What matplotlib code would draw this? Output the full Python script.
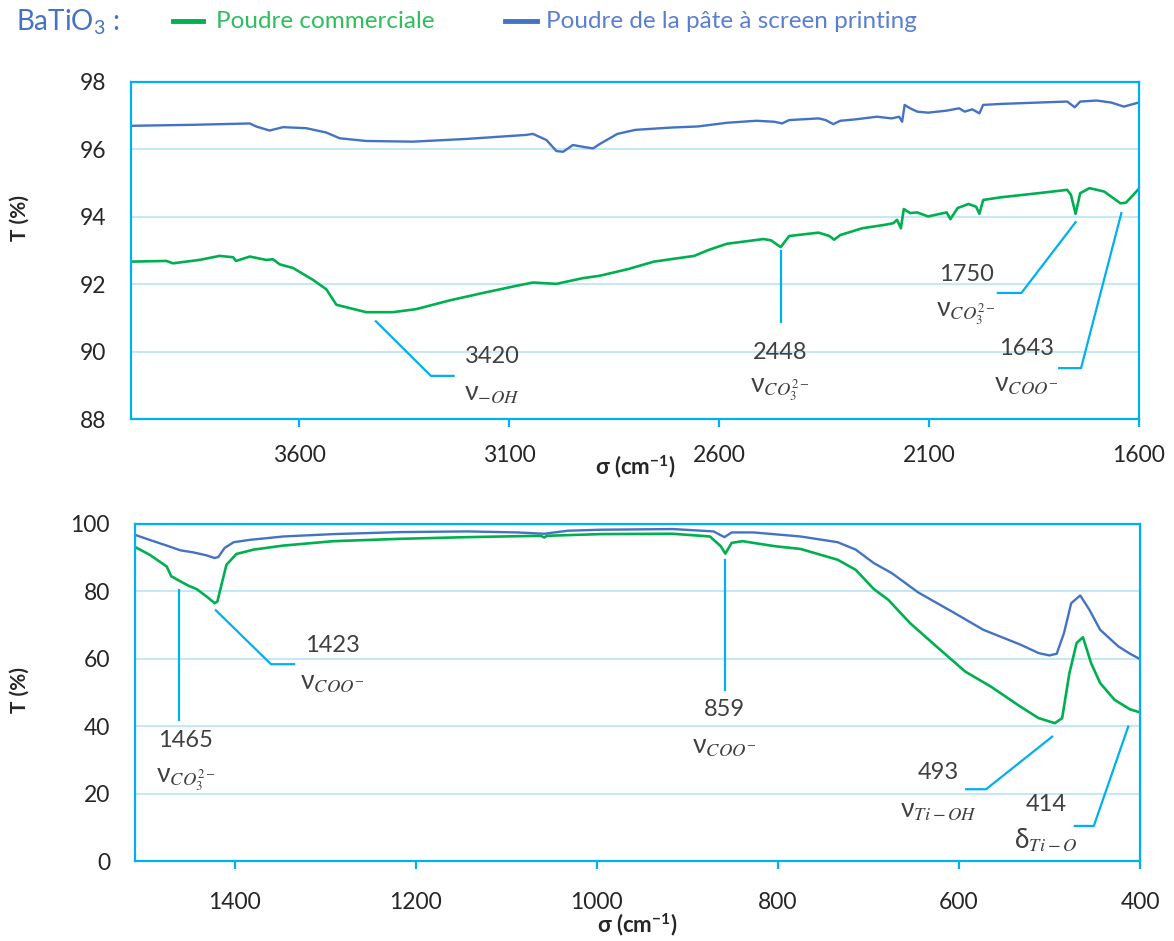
import matplotlib
matplotlib.use("Agg")
import matplotlib.pyplot as plt
from matplotlib.lines import Line2D

plt.rcParams['font.family'] = ['Lato', 'DejaVu Sans']
plt.rcParams['mathtext.fontset'] = 'custom'
plt.rcParams['mathtext.rm'] = 'Lato'
plt.rcParams['mathtext.it'] = 'Lato:italic'
plt.rcParams['mathtext.bf'] = 'Lato:bold'

# ---------------- data: top panel (4000-1600 cm-1) ----------------
top_blue_x = [4000, 3852, 3717, 3702, 3670, 3638, 3583, 3535, 3503, 3440, 3329, 3202, 3059, 3043,
              3011, 2987, 2971, 2948, 2916, 2900, 2884, 2842, 2799, 2711, 2651, 2581, 2511, 2468,
              2450, 2433, 2363, 2346, 2328, 2311, 2276, 2224, 2189, 2171, 2164, 2158, 2145, 2128,
              2102, 2058, 2028, 2015, 1997, 1980, 1971, 1928, 1840, 1771, 1753, 1740, 1701, 1666,
              1636, 1601]
top_blue_y = [96.70, 96.73, 96.77, 96.68, 96.56, 96.66, 96.63, 96.50, 96.33, 96.25, 96.23, 96.31,
              96.43, 96.46, 96.28, 95.95, 95.93, 96.13, 96.06, 96.03, 96.16, 96.46, 96.58, 96.65,
              96.68, 96.79, 96.85, 96.82, 96.77, 96.87, 96.92, 96.87, 96.75, 96.85, 96.89, 96.97,
              96.92, 96.97, 96.82, 97.32, 97.22, 97.12, 97.09, 97.15, 97.22, 97.12, 97.19, 97.07,
              97.32, 97.35, 97.39, 97.42, 97.25, 97.42, 97.45, 97.39, 97.27, 97.39]

top_green_x = [4000, 3916, 3900, 3837, 3789, 3757, 3750, 3717, 3678, 3662, 3646, 3614, 3567, 3535,
               3511, 3479, 3440, 3376, 3321, 3241, 3162, 3083, 3043, 2987, 2924, 2884, 2816, 2755,
               2659, 2624, 2581, 2494, 2476, 2453, 2433, 2363, 2337, 2326, 2311, 2259, 2206, 2185,
               2176, 2167, 2160, 2145, 2128, 2102, 2084, 2058, 2049, 2032, 2006, 1988, 1980, 1971,
               1928, 1840, 1771, 1762, 1751, 1740, 1718, 1683, 1644, 1631, 1601]
top_green_y = [92.67, 92.69, 92.62, 92.72, 92.84, 92.80, 92.69, 92.82, 92.72, 92.74, 92.59, 92.48,
               92.13, 91.85, 91.39, 91.29, 91.17, 91.17, 91.26, 91.52, 91.74, 91.95, 92.05, 92.01,
               92.18, 92.25, 92.45, 92.67, 92.84, 93.02, 93.20, 93.34, 93.30, 93.10, 93.43, 93.53,
               93.43, 93.32, 93.46, 93.66, 93.76, 93.81, 93.91, 93.66, 94.23, 94.11, 94.13, 94.01,
               94.06, 94.13, 93.93, 94.26, 94.38, 94.30, 94.09, 94.50, 94.58, 94.70, 94.80, 94.65,
               94.09, 94.70, 94.85, 94.75, 94.40, 94.42, 94.82]

# ---------------- data: bottom panel (1510-400 cm-1) ----------------
bot_blue_x = [1508, 1494, 1475, 1460, 1446, 1431, 1422, 1418, 1411, 1401, 1383, 1346, 1291, 1217,
              1143, 1088, 1058, 1032, 996, 916, 871, 859, 851, 827, 775, 734, 714, 694, 674, 645,
              605, 573, 532, 512, 500, 492, 484, 476, 466, 456, 444, 424, 411, 400]
bot_blue_y = [96.6, 95.3, 93.6, 92.2, 91.6, 90.7, 89.9, 90.2, 92.9, 94.6, 95.3, 96.3, 97.0, 97.6,
              97.8, 97.5, 97.1, 98.0, 98.3, 98.5, 97.8, 96.1, 97.5, 97.5, 96.3, 94.6, 92.4, 88.4,
              85.4, 79.7, 73.6, 68.6, 64.2, 61.7, 61.0, 61.5, 67.6, 76.5, 78.8, 74.6, 68.6, 63.7,
              61.5, 59.9]

bot_green_x = [1508, 1494, 1475, 1470, 1460, 1451, 1442, 1431, 1422, 1419, 1414, 1409, 1398, 1379,
               1346, 1291, 1217, 1143, 1062, 1058, 1055, 996, 916, 875, 863, 858, 851, 839, 803,
               775, 734, 714, 694, 678, 654, 625, 593, 565, 532, 512, 494, 486, 478, 470, 463, 454,
               444, 428, 411, 400]
bot_green_y = [92.9, 90.9, 87.4, 84.5, 83.0, 81.7, 80.7, 78.5, 76.5, 77.0, 82.5, 87.9, 91.1, 92.4,
               93.6, 94.9, 95.6, 96.1, 96.5, 96.0, 96.5, 97.0, 97.1, 96.3, 93.4, 91.2, 94.4, 94.9,
               93.4, 92.6, 89.4, 86.4, 80.7, 77.5, 70.6, 63.7, 56.2, 51.8, 45.8, 42.4, 40.9, 42.4,
               55.7, 64.7, 66.4, 58.7, 52.8, 47.8, 45.0, 44.1]

top_xticks = [3600, 3100, 2600, 2100, 1600]
top_yticks = [88, 90, 92, 94, 96, 98]
bot_xticks = [1400, 1200, 1000, 800, 600, 400]
bot_yticks = [0, 20, 40, 60, 80, 100]

legend_title = "BaTiO$_3$ :"
series_names = ["Poudre commerciale", "Poudre de la pâte à screen printing"]

# peak annotations: (wavenumber label, assignment)
top_peaks = ["3420", "2448", "1750", "1643"]
top_assign = ["ν$_{-OH}$", "ν$_{CO_3^{2-}}$", "ν$_{CO_3^{2-}}$", "ν$_{COO^{-}}$"]
bot_peaks = ["1465", "1423", "859", "493", "414"]
bot_assign = ["ν$_{CO_3^{2-}}$", "ν$_{COO^{-}}$", "ν$_{COO^{-}}$", "ν$_{Ti-OH}$", "δ$_{Ti-O}$"]

# ---------------- styling ----------------
GREEN = '#00B050'
BLUE = '#4472C4'
CYAN = '#00B0F0'
GRID = '#BFE6F8'
TXT = '#404040'
TICK = '#262626'

W, H = 1174, 941
fig = plt.figure(figsize=(W / 100, H / 100), dpi=100)

def px_axes(l, t, r, b):
    return fig.add_axes([l / W, 1 - b / H, (r - l) / W, (b - t) / H])

ax1 = px_axes(131, 82, 1139, 419)
ax2 = px_axes(135, 524, 1140, 861)

def style(ax, xlim, ylim, xt, yt, xpad):
    ax.set_xlim(*xlim)
    ax.set_ylim(*ylim)
    ax.set_xticks(xt)
    ax.set_yticks(yt)
    for s in ax.spines.values():
        s.set_color(CYAN)
        s.set_linewidth(1.6)
    ax.yaxis.grid(True, color=GRID, linewidth=1.3)
    ax.set_axisbelow(True)
    ax.tick_params(axis='x', direction='out', length=6, width=1.6, color=CYAN,
                   labelsize=16.5, labelcolor=TICK, pad=xpad)
    ax.tick_params(axis='y', length=0, labelsize=16.5, labelcolor=TICK, pad=18)

style(ax1, (4000, 1600), (88, 98), top_xticks, top_yticks, 13)
style(ax2, (1510, 400), (0, 100), bot_xticks, bot_yticks, 16)

ax1.plot(top_blue_x, top_blue_y, color=BLUE, lw=1.7)
ax1.plot(top_green_x, top_green_y, color=GREEN, lw=1.9)
ax2.plot(bot_blue_x, bot_blue_y, color=BLUE, lw=1.7)
ax2.plot(bot_green_x, bot_green_y, color=GREEN, lw=1.9)

# axis labels
for y in (218, 690):
    fig.text(20 / W, 1 - y / H, "T (%)", rotation=90, ha='center', va='center',
             fontsize=15, fontweight='bold', color=TICK)
for x, y in ((635, 467), (637, 925)):
    fig.text(x / W, 1 - y / H, "σ (cm$^{\\mathbf{-1}}$)", ha='center', va='center',
             fontsize=16, fontweight='bold', color=TICK)

# annotations
def leader(ax, xs, ys):
    ax.plot(xs, ys, color=CYAN, lw=1.6, clip_on=False)

def label(ax, x, y1, y2, num, assign):
    ax.text(x, y1, num, ha='center', va='center', fontsize=17, color=TXT)
    ax.text(x, y2, assign, ha='center', va='center', fontsize=19, color=TXT,
            math_fontfamily='stix')

leader(ax1, [3417, 3286, 3232], [90.90, 89.28, 89.28])
label(ax1, 3140, 89.84, 88.77, top_peaks[0], top_assign[0])
leader(ax1, [2453, 2453], [93.0, 90.87])
label(ax1, 2455, 89.96, 88.87, top_peaks[1], top_assign[1])
leader(ax1, [1751, 1880, 1936], [93.84, 91.74, 91.74])
label(ax1, 2012, 92.30, 91.14, top_peaks[2], top_assign[2])
leader(ax1, [1642, 1738, 1790], [94.11, 89.51, 89.51])
label(ax1, 1867, 90.08, 89.02, top_peaks[3], top_assign[3])

leader(ax2, [1461.6, 1461.6], [80.3, 41.7])
label(ax2, 1454, 35.7, 24.1, bot_peaks[0], bot_assign[0])
leader(ax2, [1420.7, 1359.8, 1334.3], [74.4, 58.4, 58.4])
label(ax2, 1291.5, 64.0, 53.0, bot_peaks[1], bot_assign[1])
leader(ax2, [858.5, 858.5], [89.4, 50.8])
label(ax2, 858.5, 45.0, 34.0, bot_peaks[2], bot_assign[2])
leader(ax2, [497, 570, 592], [36.9, 21.3, 21.3])
label(ax2, 623, 26.2, 15.1, bot_peaks[3], bot_assign[3])
leader(ax2, [413, 451, 472], [39.9, 10.4, 10.4])
label(ax2, 504, 16.9, 6.2, bot_peaks[4], bot_assign[4])

# legend header
fig.text(16 / W, 1 - 22 / H, legend_title, ha='left', va='center', fontsize=20,
         color=BLUE)
fig.add_artist(Line2D([173 / W, 203 / W], [1 - 21 / H] * 2, color=GREEN, lw=3.5))
fig.text(216 / W, 1 - 22 / H, series_names[0], ha='left', va='center', fontsize=17.5,
         color='#2EBE5C')
fig.add_artist(Line2D([505 / W, 537 / W], [1 - 21 / H] * 2, color=BLUE, lw=3.5))
fig.text(546 / W, 1 - 22 / H, series_names[1], ha='left', va='center', fontsize=17.5,
         color='#5A7FD2')

fig.savefig("out.png", dpi=100)
